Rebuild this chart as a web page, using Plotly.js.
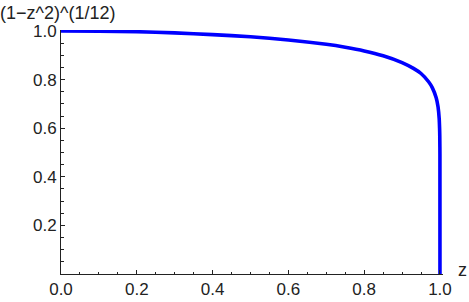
<!DOCTYPE html>
<html><head><meta charset="utf-8">
<script src="https://cdn.plot.ly/plotly-3.0.1.min.js"></script>
<style>html,body{margin:0;padding:0;background:#fff;}#plot{width:469px;height:302px;}</style>
</head><body><div id="plot"></div>
<script>
// values
const zValues = [0.0, 0.1, 0.2, 0.3, 0.4, 0.5, 0.6, 0.7, 0.75, 0.8, 0.85, 0.9, 0.93, 0.95, 0.97, 0.98, 0.99, 0.995, 0.998, 0.999, 0.9995, 0.9999, 1.0];
const fValues = [1.0, 0.999, 0.997, 0.992, 0.985, 0.976, 0.963, 0.945, 0.933, 0.918, 0.898, 0.870, 0.846, 0.825, 0.791, 0.766, 0.725, 0.687, 0.638, 0.600, 0.565, 0.490, 0.0];
const xTickVals = [0.0, 0.2, 0.4, 0.6, 0.8, 1.0];
const xTickText = ["0.0", "0.2", "0.4", "0.6", "0.8", "1.0"];
const yTickVals = [0.2, 0.4, 0.6, 0.8, 1.0];
const yTickText = ["0.2", "0.4", "0.6", "0.8", "1.0"];
const xLabel = "z";
const yLabel = "(1\u2212z^2)^(1/12)";

const axisColor = "#222";
const font = {family: "Liberation Sans, Arial, sans-serif", size: 17, color: "#222"};
const titleFont = {family: "Liberation Sans, Arial, sans-serif", size: 18, color: "#222"};

const trace = {
  x: zValues, y: fValues, type: "scatter", mode: "lines",
  line: {color: "#0000ff", width: 3.6, shape: "spline", smoothing: 0.6},
  hoverinfo: "none", cliponaxis: false
};

const layout = {
  width: 469, height: 302,
  margin: {l: 61, r: 26, t: 30, b: 28},
  paper_bgcolor: "#fff", plot_bgcolor: "#fff",
  showlegend: false,
  font: font,
  xaxis: {
    range: [0, 1.008], showgrid: false, zeroline: false,
    showline: true, linecolor: axisColor, linewidth: 1,
    tickmode: "array", tickvals: xTickVals, ticktext: xTickText,
    ticks: "inside", ticklen: 4, tickcolor: axisColor, tickwidth: 1,
    minor: {tickmode: "linear", tick0: 0, dtick: 0.05, ticks: "inside", ticklen: 2.5, tickcolor: axisColor, showgrid: false},
    tickfont: font
  },
  yaxis: {
    range: [0, 1.004], showgrid: false, zeroline: false,
    showline: true, linecolor: axisColor, linewidth: 1,
    tickmode: "array", tickvals: yTickVals, ticktext: yTickText,
    ticks: "inside", ticklen: 4, tickcolor: axisColor, tickwidth: 1,
    minor: {tickmode: "linear", tick0: 0, dtick: 0.05, ticks: "inside", ticklen: 2.5, tickcolor: axisColor, showgrid: false},
    tickfont: font
  },
  annotations: [
    {text: xLabel, xref: "paper", yref: "paper", x: 1, y: 0, xanchor: "left", yanchor: "middle", xshift: 13, yshift: 4, showarrow: false, font: titleFont},
    {text: yLabel, xref: "paper", yref: "paper", x: 0, y: 1, xanchor: "left", yanchor: "bottom", xshift: -63, yshift: 5, showarrow: false, font: titleFont}
  ]
};

Plotly.newPlot("plot", [trace], layout, {staticPlot: true, displayModeBar: false});
</script>
</body></html>
